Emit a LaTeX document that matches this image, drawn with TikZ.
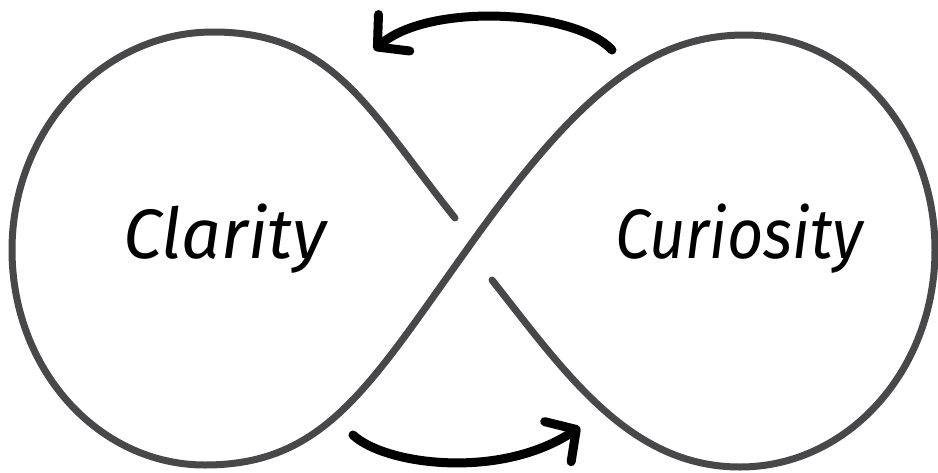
\documentclass[tikz,border=0pt]{standalone}
\usepackage{fontspec}
\newfontfamily\handfont{Fira Sans}
\usetikzlibrary{arrows.meta,positioning}
\definecolor{loopgray}{RGB}{72,72,74}

\begin{document}
\begin{tikzpicture}[x=1pt, y=-1pt,
  loop/.style={draw=loopgray, line width=7pt, line cap=round, line join=round},
  word/.style={anchor=base, inner sep=0pt, font=\handfont\itshape\fontsize{70}{84}\selectfont},
  flow/.style={draw=black, line width=9pt, line cap=round,
    -{Straight Barb[length=22pt, width=48pt, round]}}
]
\useasboundingbox (0,0) rectangle (938,472);

% points of the figure eight
\coordinate (gapa)  at (455,218);
\coordinate (gapb)  at (492,280);
\coordinate (cross) at (468,248);
\coordinate (topl)  at (213,32);
\coordinate (left)  at (12,250);
\coordinate (botl)  at (205,465);
\coordinate (topr)  at (745,35);
\coordinate (right) at (935,250);
\coordinate (botr)  at (740,467);

\draw[loop] (gapa) .. controls (368,109) and (333,32) .. (topl)
  .. controls (102,32) and (12,130) .. (left)
  .. controls (12,369) and (98,465) .. (botl)
  .. controls (325,465) and (369,386) .. (cross)
  .. controls (572,102) and (645,35) .. (topr)
  .. controls (850,35) and (935,131) .. (right)
  .. controls (935,370) and (848,467) .. (botr)
  .. controls (630,467) and (566,374) .. (gapb);

\node[word] (clarity) at (225,258) {Clarity};
\node[word, xscale=0.9] (curiosity) at (739,258) {Curiosity};

% arrows
\coordinate (upstart) at (612,50);
\coordinate (upend)   at (374,50);
\coordinate (lowstart) at (353,435);
\coordinate (lowend)   at (580,427);

\draw[flow] (upstart) .. controls (575,10) and (430,2) .. (upend);
\draw[flow] (lowstart) .. controls (385,465) and (500,480) .. (lowend);

\end{tikzpicture}
\end{document}
